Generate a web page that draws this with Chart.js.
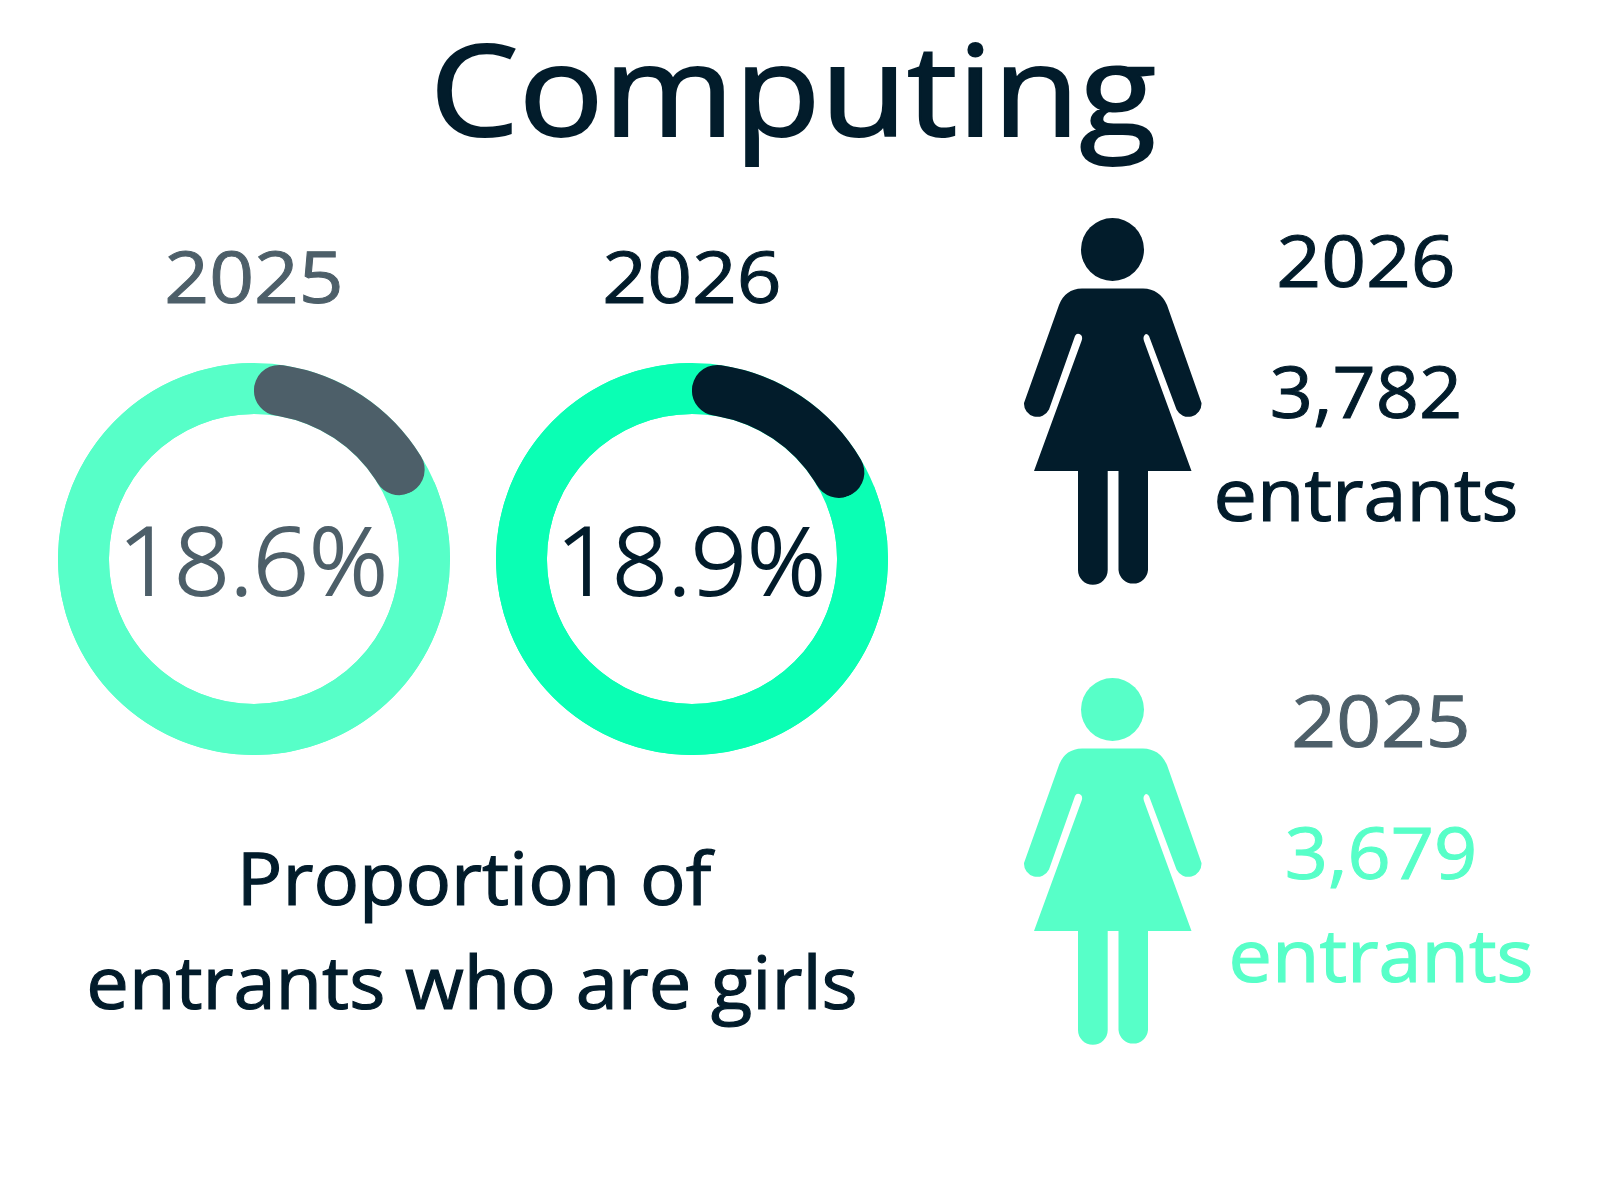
<!DOCTYPE html>
<html>
<head>
<meta charset="utf-8">
<title>Computing</title>
<script src="https://cdn.jsdelivr.net/npm/chart.js@4"></script>
<style>
    html, body { margin: 0; padding: 0; background: #ffffff; }
    #page { position: relative; width: 1600px; height: 1200px; overflow: hidden; font-family: "Open Sans", sans-serif; }
    .txt { position: absolute; white-space: nowrap; line-height: 1.4; }
    .donut { position: absolute; width: 420px; height: 420px; }
    .person { position: absolute; left: 0; top: 0; }
</style>
</head>
<body>
<div id="page">
    <canvas id="donut2025" class="donut" style="left:44px;top:349px"></canvas>
    <canvas id="donut2026" class="donut" style="left:482px;top:349px"></canvas>
    <svg class="person" width="1600" height="1200" viewBox="0 0 1600 1200">
        <defs>
            <g id="woman">
                <circle cx="1112.5" cy="249.5" r="31.5"/>
                <path d="M1082 288.5 H1143 Q1160 289 1167 305 L1201.5 403 A13.2 13.2 0 0 1 1176.5 409.5 L1149 336 Q1146 332 1144 336 Q1143 338 1144 341 L1191.5 471 H1148 V570 A14.8 14.8 0 0 1 1118.5 570 V471 H1107.7 V570 A14.8 14.8 0 0 1 1078 570 V471 H1034 L1081.5 341 Q1083 337 1081 335 Q1077 332 1075 336 L1049 409.5 A13.2 13.2 0 0 1 1024 403 L1059 305 Q1065 289 1082 288.5 Z"/>
            </g>
        </defs>
        <use href="#woman" fill="#021c2b"/>
        <use href="#woman" fill="#57ffc8" transform="translate(0,460)"/>
    </svg>
</div>
<script>
// Values
const years = ['2025', '2026'];
const girlsShare = [18.6, 18.9];
const entrants = ['3,679', '3,782'];
const ringColors = ['#57ffc8', '#0affb4'];
const arcColors = ['#4d5f69', '#021c2b'];
const entrantColors = ['#57ffc8', '#021c2b'];
const yearColors = ['#4d5f69', '#021c2b'];

const page = document.getElementById('page');

// Puts one centred line of text on the page, y is the baseline
// stretch widens the glyphs, bold thickens them (the original font is wider and heavier)
function addText(text, x, y, size, color, stretch, bold, weight) {
    const el = document.createElement('div');
    el.className = 'txt';
    el.textContent = text;
    el.style.left = x + 'px';
    el.style.fontSize = size + 'px';
    el.style.color = color;
    el.style.fontWeight = weight || 400;
    el.style.webkitTextStroke = bold + 'px ' + color;
    el.style.transform = 'translateX(-50%) scaleX(' + stretch + ')';
    page.appendChild(el);
    const probe = document.createElement('span');
    probe.style.cssText = 'display:inline-block;width:0;height:0;vertical-align:baseline';
    el.appendChild(probe);
    const baseline = probe.getBoundingClientRect().bottom - el.getBoundingClientRect().top;
    el.removeChild(probe);
    el.style.top = (y - baseline) + 'px';
}

// Full ring behind the arc, so the rounded ends sit on top of it
const ringBehind = {
    id: 'ringBehind',
    beforeDatasetsDraw(chart) {
        const arc = chart.getDatasetMeta(0).data[0];
        const ctx = chart.ctx;
        ctx.save();
        ctx.beginPath();
        ctx.arc(arc.x, arc.y, (arc.outerRadius + arc.innerRadius) / 2, 0, Math.PI * 2);
        ctx.lineWidth = arc.outerRadius - arc.innerRadius;
        ctx.strokeStyle = chart.data.datasets[0].backgroundColor[1];
        ctx.stroke();
        ctx.restore();
    }
};

function drawDonut(id, index) {
    const ctx = document.getElementById(id).getContext('2d');
    new Chart(ctx, {
        type: 'doughnut',
        data: {
            labels: ['Girls', 'Boys'],
            datasets: [{
                data: [girlsShare[index], 100 - girlsShare[index]],
                backgroundColor: [arcColors[index], ringColors[index]],
                borderWidth: 0,
                borderRadius: [60, 0]
            }]
        },
        options: {
            responsive: false,
            animation: false,
            cutout: '74%',
            radius: 196,
            plugins: {
                legend: { display: false },
                tooltip: { enabled: false }
            }
        },
        plugins: [ringBehind]
    });
}

document.querySelectorAll('canvas.donut').forEach(c => { c.width = 420; c.height = 420; });
drawDonut('donut2025', 0);
drawDonut('donut2026', 1);

addText('Computing', 792.5, 136, 126, '#021c2b', 1.12, 2);

addText(years[0], 254, 303, 72, yearColors[0], 1.09, 1);
addText(years[1], 692, 303, 72, yearColors[1], 1.09, 1);
addText(girlsShare[0] + '%', 253, 595, 94, yearColors[0], 1.04, 2, 300);
addText(girlsShare[1] + '%', 691, 595, 94, yearColors[1], 1.04, 2, 300);

addText('Proportion of', 474, 905, 74, '#021c2b', 1.025, 1.2);
addText('entrants who are girls', 472, 1009, 74, '#021c2b', 1.025, 1.2);

addText(years[1], 1366, 287, 72, yearColors[1], 1.09, 1);
addText(entrants[1], 1366, 418, 72, entrantColors[1], 1.05, 1);
addText('entrants', 1366, 521, 74, entrantColors[1], 1.045, 1.2);

addText(years[0], 1381, 747, 72, yearColors[0], 1.09, 1);
addText(entrants[0], 1381, 879, 72, entrantColors[0], 1.05, 1);
addText('entrants', 1381, 982, 74, entrantColors[0], 1.045, 1.2);
</script>
</body>
</html>
